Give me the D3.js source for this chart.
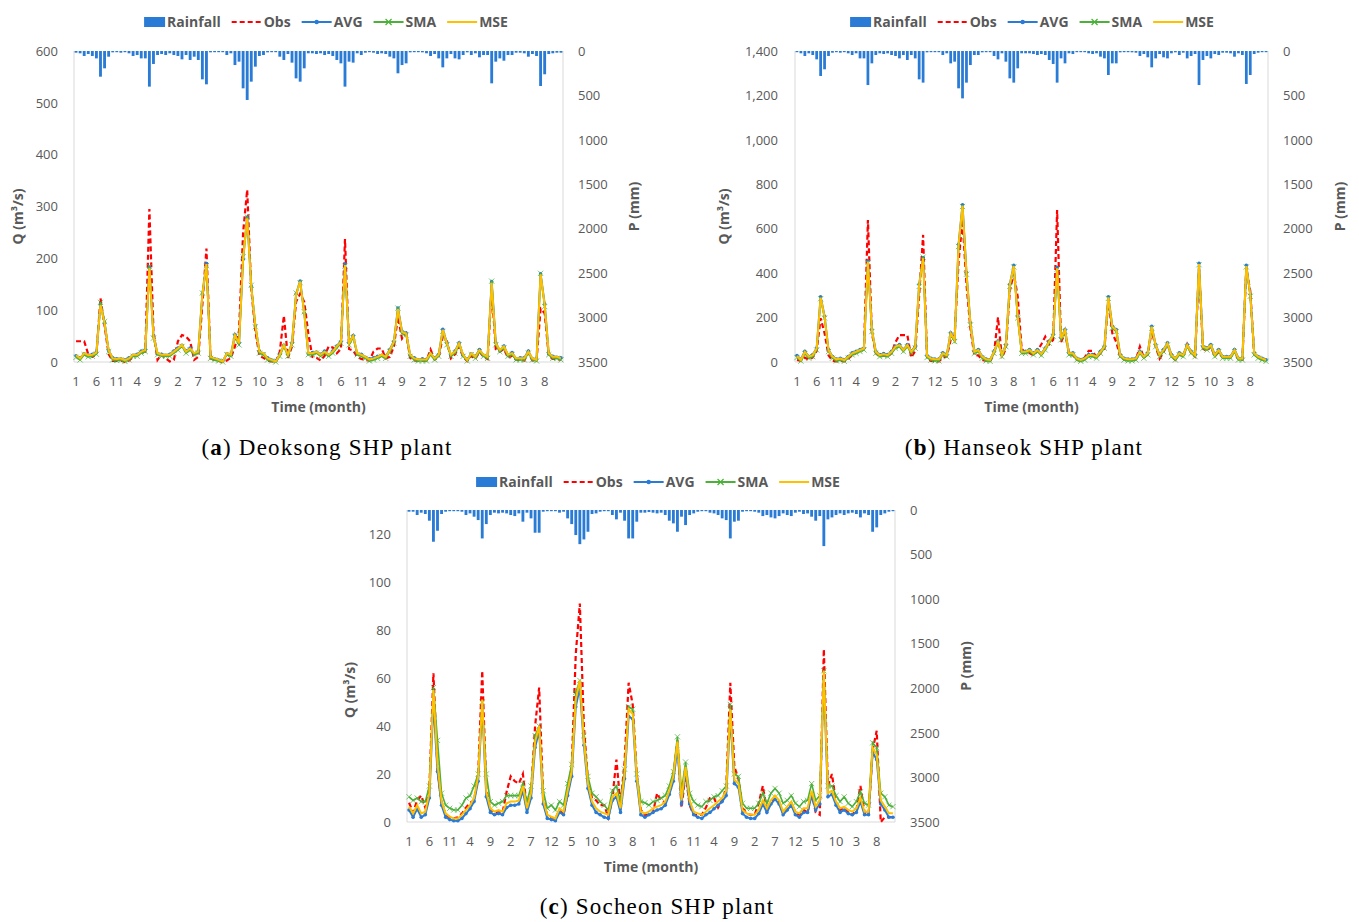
<!DOCTYPE html>
<html>
<head>
<meta charset="utf-8">
<script src="https://cdn.jsdelivr.net/npm/d3@7"></script>
<style>
  body { margin: 0; background: #fff; }
  text { font-family: "Open Sans", "Noto Sans", sans-serif; }
</style>
</head>
<body>
<script>
// x axis: 120 monthly steps, a label every 5th month
var monthCount = 120;
var xTickLabels = ["1","6","11","4","9","2","7","12","5","10","3","8",
                   "1","6","11","4","9","2","7","12","5","10","3","8"];
var seriesNames = ["Rainfall", "Obs", "AVG", "SMA", "MSE"];
var rainTicks = [0, 500, 1000, 1500, 2000, 2500, 3000, 3500];

// (a) Deoksong
var rainA = [19,26,56,34,56,83,289,195,64,15, 11,19,11,26,56,45,83,83,401,146, 45,34,45,26,45,56,94,45,101,64,
  101,319,375,15,11,11,8,45,26,158, 120,420,551,345,176,56,45,15,8,8, 64,101,34,131,308,345,195,26,26,34,
  26,45,34,56,101,139,401,120,131,26, 45,19,11,19,34,26,34,64,83,251, 158,139,15,11,8,15,26,56,34,83,
  184,83,34,83,94,45,15,45,26,71, 45,45,364,120,83,109,45,45,19,19, 26,64,34,56,394,262,34,26,19,19];
var obsA = [40,40,40,15,10,14,123,70,15,2, 2,3,0,3,10,12,18,20,295,60, 4,15,7,1,4,40,52,49,40,4,
  10,110,219,7,4,2,0,3,8,30, 60,250,332,140,60,12,8,3,1,0, 20,89,8,30,116,132,116,55,10,8,
  3,12,30,28,17,25,237,25,22,10, 6,4,3,20,26,26,7,10,30,87, 45,55,8,3,2,2,3,24,5,10,
  49,40,7,15,30,10,2,12,6,20, 10,6,140,25,20,25,8,12,4,4, 3,18,3,1,103,94,12,6,6,4];
var avgA = [12,8,16,13,15,19,112,76,22,8, 6,6,4,8,13,15,21,24,183,50, 16,15,13,15,21,27,32,21,27,16,
  21,131,190,11,6,4,2,16,15,53, 37,198,279,146,70,21,16,8,4,2, 15,32,15,37,131,156,95,16,18,19,
  15,21,13,21,31,40,189,37,51,16, 15,9,6,8,11,13,11,24,40,104, 59,56,13,8,4,6,5,16,8,15,
  63,37,13,21,37,13,5,16,11,24, 13,11,155,37,22,31,13,18,6,8, 8,21,6,5,170,112,16,11,9,8];
var smaA = [9,4,14,10,11,15,115,78,20,4, 3,4,1,4,11,11,17,20,184,46, 14,11,11,11,17,23,30,17,23,14,
  17,133,186,7,4,2,0,14,11,49, 33,203,280,148,68,17,14,4,2,0, 11,30,11,33,133,153,97,14,14,17,
  11,17,11,17,27,36,185,33,47,14, 11,7,2,4,7,11,7,20,36,104, 55,52,11,4,2,2,2,14,4,11,
  59,33,11,17,33,11,2,14,7,20, 11,7,156,33,20,27,11,14,4,4, 4,17,4,2,171,107,14,7,7,4];
var mseA = [13,7,17,13,14,18,110,75,23,7, 6,7,3,7,14,14,20,23,181,49, 17,14,14,14,20,26,33,20,26,17,
  20,130,189,10,7,4,1,17,14,52, 36,200,277,145,71,20,17,7,4,1, 14,33,14,36,130,155,94,17,17,20,
  14,20,14,20,30,39,187,36,50,17, 14,10,5,7,10,14,10,23,39,102, 58,55,14,7,5,5,5,17,7,14,
  62,36,14,20,36,14,4,17,10,23, 14,10,153,36,23,30,14,17,7,7, 7,20,7,4,169,110,17,10,10,7];

// (b) Hanseok
var rainB = [11,26,56,26,45,94,281,206,56,19, 11,19,11,26,45,26,83,83,383,139, 45,26,34,26,45,56,83,45,101,45,
  83,319,356,15,11,8,8,45,26,139, 120,420,533,356,158,45,45,15,8,8, 56,94,26,120,308,356,195,26,26,26,
  34,45,34,45,101,146,356,83,139,26, 34,11,11,11,26,34,26,64,83,270, 139,139,15,11,8,15,19,56,34,71,
  184,83,34,71,83,26,15,45,19,83, 56,34,383,101,56,83,34,45,19,19, 26,64,26,45,371,270,34,19,11,11];
var obsB = [9,5,20,10,20,50,197,130,30,5, 3,5,3,15,30,40,50,60,639,130, 40,25,30,25,40,90,121,121,121,20,
  50,300,572,20,5,3,3,20,25,100, 120,450,639,350,150,30,30,10,5,3, 40,201,20,60,320,400,294,60,40,40,
  30,50,80,114,80,100,684,90,130,40, 30,10,5,20,50,50,20,40,60,280, 130,90,25,10,8,8,12,70,20,35,
  140,70,15,45,80,25,10,35,25,80, 40,25,420,60,50,70,25,45,20,20, 20,50,10,10,420,320,35,20,12,8];
var avgB = [29,11,48,25,33,63,294,206,56,25, 13,17,10,25,41,48,56,63,455,146, 48,33,38,33,48,71,78,56,78,48,
  71,350,470,29,17,13,13,41,33,131, 101,530,708,403,176,48,56,25,13,10, 48,94,33,78,350,435,206,48,48,56,
  41,56,38,63,94,124,425,109,146,41, 41,17,10,17,33,33,25,48,71,294, 161,146,33,17,13,13,17,48,25,41,
  161,78,33,56,86,33,17,41,33,78, 48,33,444,71,63,78,33,56,25,25, 25,56,17,17,435,305,41,25,17,10];
var smaB = [20,4,38,17,24,54,285,198,47,17, 5,9,3,17,32,39,47,54,448,137, 39,24,29,24,39,62,69,47,69,39,
  62,340,472,20,9,5,5,32,24,122, 92,520,700,395,167,39,47,17,5,3, 39,85,24,69,340,428,198,39,39,47,
  32,47,29,54,85,115,418,100,137,32, 32,9,3,9,24,24,17,39,62,286, 152,137,24,9,5,5,9,39,17,32,
  152,69,24,47,77,24,9,32,24,69, 39,24,438,62,54,69,24,47,17,17, 17,47,9,9,428,296,32,17,9,3];
var mseB = [27,9,46,24,31,61,290,204,54,24, 12,16,9,24,39,46,54,61,452,144, 46,31,36,31,46,69,76,54,76,46,
  69,347,467,27,16,12,12,39,31,129, 99,527,704,400,174,46,54,24,12,9, 46,92,31,76,347,432,204,46,46,54,
  39,54,36,61,92,122,422,107,144,39, 39,16,9,16,31,31,24,46,69,291, 159,144,31,16,12,12,16,46,24,39,
  159,76,31,54,84,31,16,39,31,76, 46,31,441,69,61,76,31,54,24,24, 24,54,16,16,432,302,39,24,16,9];

// (c) Socheon
var rainC = [19,19,56,30,45,120,356,233,45,19, 11,11,11,19,56,38,75,113,319,158, 56,30,38,30,38,56,68,38,131,30,
  94,255,255,19,11,11,11,30,19,94, 158,281,383,330,244,45,38,19,11,11, 56,105,30,120,319,319,131,30,30,23,
  30,38,30,56,120,150,244,75,169,56, 38,19,11,11,30,38,56,94,113,319, 131,120,19,11,11,19,30,68,56,83,
  94,68,38,56,68,30,19,45,38,75, 120,68,405,105,83,56,38,56,38,30, 45,83,38,56,244,195,56,38,19,11];
var obsC = [8,4,9,11,6,14,62,22,8,3, 2,1.5,2,3.5,6,8,9,20,63,14, 5,4,4,4,12.6,19,17,16,20,6,
  12,40,56,10,2.5,1.5,1.5,5,3,12, 23,70,91,40,17,10,9,7,7,2, 10,26,7,25,58,49,20,5,3,3,
  4,12,9,8,12,19,34,6,20,7, 3,3,3,6,10,10,6,9,14,58, 23,18,6,3.5,3,3,8,15,5,8,
  10,8,3.5,6,8,4,3,5,4,12, 4,3,72,15,20,8,5,6,4,3, 5,15,4,3,30,38,0,2,2,2];
var avgC = [5,2,5.5,2,3,10,50,21,7,2, 1,0.5,0.5,1.5,3.5,5.5,8.5,17,48,10.5, 4,3,3.5,3,6,7,7,7.5,13,4,
  10,31,38,7.5,1.5,1,0.5,4,3,11, 19,48,56,32,14,7,4,3,2,1.5, 9,10.5,4,18,44,43,17,3,2,3,
  4,5,5.5,7,11.5,17,31,7.5,21,7.5, 3,2,1.5,3,4,5.5,7,8.5,11,44, 16,14.5,3.5,2,1.5,1.5,3.5,7.5,4,7.5,
  9.5,7.5,3,5,7,3,2,4,4,11, 5,7.5,60,10.5,11.5,7,4,5,3.5,3, 4,8.5,3,3,29,26,7.5,5,2,2];
var smaC = [10.5,9,10,8.5,8.5,15,56,34,12,7, 5.7,5,5,7,10,11,15,20,50,20, 8.5,7,7.8,8.5,11,11,11,11,16,8.5,
  15,36,40,13,5.7,7,5,8.5,7,16, 24,54,59,36,19,12,10.5,8.5,7,5, 13,15,8.5,22,48,47,20,8.5,8,7,
  8.5,9,10,11,15,21,35.5,13,25,12, 8.5,7,6.4,8.5,9,10.5,11,13,15,49, 20,19,7.8,5.7,5.7,5.7,7.8,12,7.8,12,
  14,12,7.8,9,11,7.8,6.4,8.5,9,16, 9,11,63,15,15,11,8.5,10.5,7.8,6.4, 8.5,12.6,7.8,7,33,31,12,10.5,7,6.4];
var mseC = [6.4,3.6,7,3.6,4.3,12,55,24,8.5,3.6, 2.2,1.5,1.5,3,5,7,10,19,51,12.6, 5.7,4.3,5,4.3,7.8,8.5,8.5,9,15,5.7,
  12,33.5,40,9,3,2.2,1.5,5.7,4.3,13, 21,51,59,34,16,8.5,5.7,4.3,3.6,3, 10.5,12,5.7,20,47,45,19,4.3,3.6,4.3,
  5.7,6.4,7,8.5,13,19,33.5,9,23,9, 4.3,3.6,3,4.3,5.7,7,8.5,10,13,47, 17.5,16,5,3.6,3,3,5,9,5.7,9,
  11,9,4.3,6.4,8.5,4.3,3.6,5.7,5.7,13, 6.4,9,63,12,13,8.5,5.7,6.4,5,4.3, 5.7,10,4.3,4.3,31,28,9,6.4,3.6,3.6];

var colors = { rain: "#2a7bd5", obs: "#ff0000", avg: "#2a7bd5", sma: "#4cb03a", mse: "#ffc000" };
var axisGrey = "#595959";

var svg = d3.select("body").append("svg")
    .attr("width", 1359)
    .attr("height", 922);

function drawPanel(p) {
  var g = svg.append("g");

  var x = d3.scaleBand().domain(d3.range(monthCount)).range([p.left, p.right]);
  var bw = x.bandwidth();
  var cx = function(i) { return x(i) + bw / 2; };
  var yQ = d3.scaleLinear().domain([0, p.qMax]).range([p.bottom, p.top]);
  var yP = d3.scaleLinear().domain([0, 3500]).range([p.top, p.bottom]);

  // frame: left, right and bottom lines
  g.append("path")
    .attr("d", "M" + p.left + "," + p.top + "V" + p.bottom + "H" + p.right + "V" + p.top)
    .attr("fill", "none").attr("stroke", "#d9d9d9").attr("stroke-width", 1);

  // rainfall bars hang from the top
  g.selectAll("rect.rain").data(p.rain).join("rect")
    .attr("class", "rain")
    .attr("x", function(d, i) { return x(i) + bw * 0.15; })
    .attr("width", bw * 0.7)
    .attr("y", yP(0))
    .attr("height", function(d) { return Math.max(1.2, yP(d) - yP(0)); })
    .attr("fill", colors.rain);

  var line = d3.line().x(function(d, i) { return cx(i); }).y(function(d) { return yQ(d); });

  g.append("path").datum(p.obs).attr("d", line)
    .attr("fill", "none").attr("stroke", colors.obs).attr("stroke-width", 2.2)
    .attr("stroke-dasharray", "5,3");

  g.append("path").datum(p.avg).attr("d", line)
    .attr("fill", "none").attr("stroke", colors.avg).attr("stroke-width", 2);
  g.selectAll("circle.avg").data(p.avg).join("circle")
    .attr("class", "avg")
    .attr("cx", function(d, i) { return cx(i); })
    .attr("cy", function(d) { return yQ(d); })
    .attr("r", 1.8).attr("fill", colors.avg);

  g.append("path").datum(p.sma).attr("d", line)
    .attr("fill", "none").attr("stroke", colors.sma).attr("stroke-width", 1.6);
  g.selectAll("path.sma").data(p.sma).join("path")
    .attr("class", "sma")
    .attr("d", function(d, i) {
      var px = cx(i), py = yQ(d), s = 2.6;
      return "M" + (px - s) + "," + (py - s) + "L" + (px + s) + "," + (py + s) +
             "M" + (px - s) + "," + (py + s) + "L" + (px + s) + "," + (py - s);
    })
    .attr("stroke", colors.sma).attr("stroke-width", 0.9).attr("opacity", 0.8);

  g.append("path").datum(p.mse).attr("d", line)
    .attr("fill", "none").attr("stroke", colors.mse).attr("stroke-width", 2);

  // axes
  var styleAxis = function(sel) {
    sel.select(".domain").remove();
    sel.selectAll("text").attr("fill", axisGrey).style("font-size", "13px")
      .style("font-family", "'Open Sans', sans-serif");
  };

  g.append("g").attr("transform", "translate(" + p.left + ",0)")
    .call(d3.axisLeft(yQ).tickValues(d3.range(0, p.qMax + 1, p.qStep))
      .tickSize(0).tickPadding(p.leftPad).tickFormat(p.qFormat))
    .call(styleAxis);

  g.append("g").attr("transform", "translate(" + p.right + ",0)")
    .call(d3.axisRight(yP).tickValues(rainTicks).tickSize(0).tickPadding(15)
      .tickFormat(d3.format("d")))
    .call(styleAxis);

  // band axis already puts labels on month centres
  g.append("g").attr("transform", "translate(0," + p.bottom + ")")
    .call(d3.axisBottom(x).tickValues(d3.range(0, monthCount, 5)).tickSize(0).tickPadding(15)
      .tickFormat(function(d, k) { return xTickLabels[k]; }))
    .call(styleAxis);

  // titles
  var midY = (p.top + p.bottom) / 2;
  g.append("text")
    .attr("transform", "translate(" + p.qTitleX + "," + (midY + p.qTitleShift) + ") rotate(-90)")
    .attr("text-anchor", "middle").attr("font-weight", "bold").attr("font-size", 14)
    .attr("fill", axisGrey).text("Q (m³/s)");
  g.append("text")
    .attr("transform", "translate(" + p.pTitleX + "," + midY + ") rotate(-90)")
    .attr("text-anchor", "middle").attr("font-weight", "bold").attr("font-size", 14)
    .attr("fill", axisGrey).text("P (mm)");
  g.append("text")
    .attr("x", (p.left + p.right) / 2).attr("y", p.bottom + 50)
    .attr("text-anchor", "middle").attr("font-weight", "bold").attr("font-size", 14)
    .attr("fill", axisGrey).text("Time (month)");

  // legend
  var leg = g.append("g");
  var lx = 0;
  seriesNames.forEach(function(name, k) {
    var item = leg.append("g").attr("transform", "translate(" + lx + ",0)");
    var sw = k === 0 ? 21 : 30;
    if (k === 0) {
      item.append("rect").attr("x", 0).attr("y", -5).attr("width", sw).attr("height", 10)
        .attr("fill", colors.rain);
    } else {
      var c = [null, colors.obs, colors.avg, colors.sma, colors.mse][k];
      var ln = item.append("line").attr("x1", 0).attr("x2", sw).attr("y1", 0).attr("y2", 0)
        .attr("stroke", c).attr("stroke-width", 2);
      if (k === 1) ln.attr("stroke-dasharray", "5,3");
      if (k === 2) item.append("circle").attr("cx", sw / 2).attr("cy", 0).attr("r", 2.2).attr("fill", c);
      if (k === 3) item.append("path")
        .attr("d", "M" + (sw / 2 - 3) + ",-3L" + (sw / 2 + 3) + ",3M" + (sw / 2 - 3) + ",3L" + (sw / 2 + 3) + ",-3")
        .attr("stroke", c).attr("stroke-width", 1.2);
    }
    var t = item.append("text").attr("x", sw + 2).attr("y", 5)
      .attr("font-weight", "bold").attr("font-size", 14).attr("fill", axisGrey).text(name);
    lx += sw + 2 + t.node().getComputedTextLength() + 11;
  });
  leg.attr("transform", "translate(" + (p.legendCx - (lx - 11) / 2) + "," + p.legendY + ")");

  // caption
  var cap = svg.append("text")
    .attr("x", p.captionX).attr("y", p.captionY)
    .attr("text-anchor", "middle")
    .style("font-family", "'Liberation Serif', 'DejaVu Serif', serif")
    .style("letter-spacing", "1.2px")
    .attr("font-size", 23).attr("fill", "#000");
  cap.append("tspan").text("(");
  cap.append("tspan").attr("font-weight", "bold").text(p.letter);
  cap.append("tspan").text(") " + p.caption);
}

drawPanel({
  left: 74, right: 563, top: 51, bottom: 362,
  qMax: 600, qStep: 100, qFormat: d3.format("d"), leftPad: 16,
  rain: rainA, obs: obsA, avg: avgA, sma: smaA, mse: mseA,
  qTitleX: 23, qTitleShift: 10, pTitleX: 639,
  legendCx: 326, legendY: 22,
  letter: "a", caption: "Deoksong SHP plant", captionX: 327, captionY: 455
});

drawPanel({
  left: 795, right: 1268, top: 51, bottom: 362,
  qMax: 1400, qStep: 200, qFormat: d3.format(","), leftPad: 17,
  rain: rainB, obs: obsB, avg: avgB, sma: smaB, mse: mseB,
  qTitleX: 729, qTitleShift: 10, pTitleX: 1345,
  legendCx: 1032, legendY: 22,
  letter: "b", caption: "Hanseok SHP plant", captionX: 1024, captionY: 455
});

drawPanel({
  left: 407, right: 895, top: 510, bottom: 822,
  qMax: 130, qStep: 20, qFormat: d3.format("d"), leftPad: 16,
  rain: rainC, obs: obsC, avg: avgC, sma: smaC, mse: mseC,
  qTitleX: 355, qTitleShift: 24, pTitleX: 971,
  legendCx: 658, legendY: 482,
  letter: "c", caption: "Socheon SHP plant", captionX: 657, captionY: 914
});
</script>
</body>
</html>
